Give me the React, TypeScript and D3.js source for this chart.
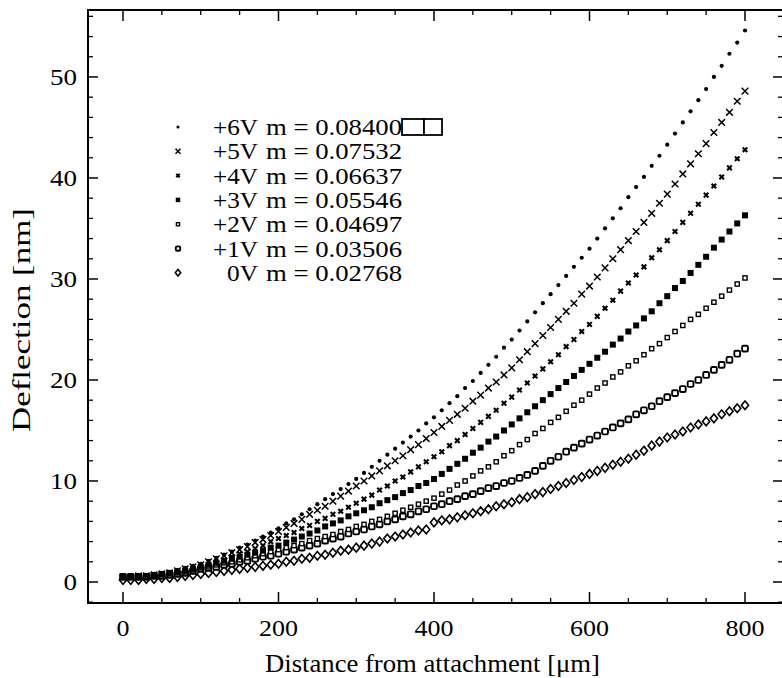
import React from "react";
import * as d3 from "d3";

const distance = [0,10,20,30,40,50,60,70,80,90,100,110,120,130,140,150,160,170,180,190,200,210,220,230,240,250,260,270,280,290,300,310,320,330,340,350,360,370,380,390,400,410,420,430,440,450,460,470,480,490,500,510,520,530,540,550,560,570,580,590,600,610,620,630,640,650,660,670,680,690,700,710,720,730,740,750,760,770,780,790,800];

const v6 = [0.5,0.5,0.6,0.6,0.7,0.8,1.0,1.2,1.4,1.6,1.8,2.1,2.4,2.7,3.0,3.4,3.7,4.1,4.5,4.9,5.3,5.8,6.2,6.7,7.2,7.7,8.2,8.7,9.2,9.7,10.2,10.8,11.4,12.0,12.6,13.2,13.8,14.4,15.0,15.7,16.3,17.0,17.7,18.4,19.2,19.9,20.7,21.5,22.3,23.2,24.0,24.9,25.8,26.7,27.6,28.5,29.4,30.3,31.2,32.1,33.0,34.0,35.0,36.0,37.0,38.1,39.1,40.1,41.2,42.2,43.3,44.4,45.5,46.6,47.7,48.8,50.0,51.1,52.3,53.4,54.6];
const v5 = [0.5,0.5,0.6,0.6,0.7,0.8,0.9,1.1,1.3,1.5,1.7,2.0,2.3,2.6,2.9,3.2,3.5,3.9,4.2,4.6,5.0,5.4,5.8,6.2,6.7,7.1,7.5,8.0,8.5,9.0,9.5,10.0,10.5,11.0,11.5,12.0,12.5,13.1,13.6,14.2,14.8,15.4,16.0,16.6,17.2,17.9,18.5,19.2,19.8,20.5,21.2,22.0,22.8,23.6,24.4,25.2,26.0,26.8,27.6,28.5,29.3,30.2,31.1,32.0,32.9,33.8,34.7,35.6,36.5,37.5,38.4,39.4,40.4,41.4,42.4,43.4,44.5,45.5,46.5,47.6,48.6];
const v4 = [0.5,0.5,0.5,0.6,0.7,0.8,0.9,1.0,1.2,1.3,1.5,1.7,2.0,2.2,2.5,2.8,3.0,3.3,3.6,4.0,4.3,4.6,4.9,5.3,5.6,6.0,6.3,6.7,7.0,7.4,7.8,8.2,8.6,9.1,9.5,10.0,10.4,10.9,11.4,11.9,12.4,12.9,13.5,14.0,14.6,15.2,15.8,16.4,17.0,17.7,18.3,19.0,19.7,20.4,21.1,21.8,22.5,23.3,24.0,24.8,25.5,26.3,27.1,27.9,28.8,29.6,30.4,31.2,32.1,32.9,33.8,34.7,35.6,36.5,37.4,38.3,39.2,40.1,41.0,41.9,42.8];
const v3 = [0.5,0.5,0.5,0.6,0.7,0.8,0.9,1.0,1.1,1.3,1.5,1.7,1.9,2.1,2.3,2.5,2.7,2.9,3.1,3.4,3.6,3.9,4.2,4.5,4.8,5.1,5.5,5.8,6.1,6.5,6.8,7.1,7.4,7.8,8.1,8.4,8.8,9.1,9.5,9.8,10.2,10.7,11.2,11.7,12.2,12.8,13.3,13.9,14.4,15.0,15.6,16.2,16.8,17.4,18.0,18.6,19.2,19.8,20.4,21.0,21.6,22.2,22.8,23.5,24.1,24.8,25.4,26.1,26.8,27.6,28.3,29.1,29.8,30.6,31.4,32.2,33.1,33.9,34.7,35.5,36.3];
const v2 = [0.5,0.5,0.5,0.6,0.6,0.7,0.8,0.9,1.0,1.2,1.3,1.5,1.7,1.9,2.0,2.2,2.4,2.6,2.8,3.0,3.2,3.4,3.6,3.8,4.1,4.3,4.5,4.7,5.0,5.2,5.5,5.7,6.0,6.2,6.5,6.8,7.1,7.4,7.7,8.0,8.3,8.7,9.1,9.6,10.0,10.5,11.0,11.4,11.9,12.5,13.0,13.6,14.1,14.7,15.2,15.8,16.3,16.9,17.5,18.0,18.6,19.2,19.7,20.3,20.8,21.4,21.9,22.5,23.1,23.6,24.2,24.8,25.4,26.0,26.5,27.1,27.7,28.3,28.9,29.5,30.1];
const v1 = [0.5,0.5,0.5,0.5,0.6,0.6,0.7,0.8,0.9,1.1,1.3,1.4,1.5,1.7,1.8,2.0,2.1,2.3,2.5,2.6,2.8,3.0,3.2,3.4,3.6,3.8,4.1,4.3,4.5,4.8,5.0,5.2,5.5,5.7,6.0,6.2,6.5,6.7,7.0,7.2,7.5,7.7,8.0,8.2,8.5,8.7,9.0,9.3,9.5,9.8,10.0,10.3,10.6,11.0,11.5,12.0,12.4,12.9,13.3,13.7,14.1,14.5,14.9,15.3,15.7,16.1,16.6,17.0,17.4,17.9,18.3,18.7,19.1,19.6,20.0,20.5,21.0,21.5,22.0,22.6,23.1];
const v0 = [0.2,0.2,0.2,0.3,0.3,0.4,0.4,0.5,0.6,0.7,0.8,0.9,1.0,1.1,1.2,1.3,1.4,1.5,1.6,1.7,1.8,2.0,2.1,2.3,2.4,2.6,2.7,2.9,3.1,3.2,3.4,3.6,3.8,4.0,4.3,4.5,4.7,4.9,5.1,5.2,5.9,6.1,6.2,6.4,6.6,6.8,7.0,7.2,7.5,7.7,7.9,8.2,8.4,8.7,8.9,9.2,9.5,9.8,10.1,10.4,10.7,11.0,11.3,11.6,11.9,12.2,12.6,13.0,13.5,13.9,14.3,14.6,14.9,15.3,15.6,15.9,16.2,16.6,16.9,17.2,17.5];

const seriesLabels = ["+6V", "+5V", "+4V", "+3V", "+2V", "+1V", "0V"];
const slopeLabels = ["m = 0.08400", "m = 0.07532", "m = 0.06637", "m = 0.05546", "m = 0.04697", "m = 0.03506", "m = 0.02768"];
const seriesValues = [v6, v5, v4, v3, v2, v1, v0];
const markerKinds = ["dot", "cross", "smallx", "square", "smallsquare", "opensquare", "diamond"];

const xMajorTicks = [0, 200, 400, 600, 800];
const yMajorTicks = [0, 10, 20, 30, 40, 50];

const W = 782;
const H = 678;
const FONT = "'Liberation Serif', 'Times New Roman', serif";

const x = d3.scaleLinear().domain([-45, 846.3]).range([88, 781]);
const y = d3.scaleLinear().domain([-2.08, 56.63]).range([603, 10]);

function Marker({ kind, cx, cy, legend }: { kind: string; cx: number; cy: number; legend?: boolean }) {
  const k = legend ? 0.75 : 1;
  switch (kind) {
    case "dot":
      return <circle cx={cx} cy={cy} r={2.1 * k} fill="#000" />;
    case "cross": {
      const s = 3.3 * k;
      return (
        <path
          d={`M${cx - s},${cy - s}L${cx + s},${cy + s}M${cx - s},${cy + s}L${cx + s},${cy - s}`}
          stroke="#000"
          strokeWidth={1.5}
          fill="none"
        />
      );
    }
    case "smallx": {
      const s = 2.3 * k;
      return (
        <path
          d={`M${cx - s},${cy - s}L${cx + s},${cy + s}M${cx - s},${cy + s}L${cx + s},${cy - s}`}
          stroke="#000"
          strokeWidth={2.1}
          fill="none"
        />
      );
    }
    case "square": {
      const s = 6 * k;
      return <rect x={cx - s / 2} y={cy - s / 2} width={s} height={s} fill="#000" />;
    }
    case "smallsquare": {
      const s = 4.2 * k;
      return <rect x={cx - s / 2} y={cy - s / 2} width={s} height={s} fill="#fff" stroke="#000" strokeWidth={1.4} />;
    }
    case "opensquare": {
      const s = 5.8 * k;
      return <rect x={cx - s / 2} y={cy - s / 2} width={s} height={s} rx={1.3} fill="#fff" stroke="#000" strokeWidth={1.9} />;
    }
    case "diamond": {
      const a = 4.3 * k;
      const b = 3.6 * k;
      return (
        <path
          d={`M${cx},${cy - a}L${cx + b},${cy}L${cx},${cy + a}L${cx - b},${cy}Z`}
          fill="#fff"
          stroke="#000"
          strokeWidth={1.6}
        />
      );
    }
    default:
      return null;
  }
}

export default function App() {
  const xMinor = d3.range(0, 846, 50).filter((t) => !xMajorTicks.includes(t));
  const yMinor = d3.range(-2, 57, 2).filter((t) => !yMajorTicks.includes(t) && t > -2.08 && t < 56.6);
  const left = 88, right = 783, top = 10, bottom = 603;

  const drawOrder = [6, 5, 4, 3, 2, 1, 0];
  const legendY0 = 127;
  const legendDy = 24.3;

  return (
    <svg
      width={W}
      height={H}
      style={{ position: "absolute", left: 0, top: 0, background: "#fff" }}
      fontFamily={FONT}
    >
      <rect x={0} y={0} width={W} height={H} fill="#fff" />
      {/* frame */}
      <path
        d={`M${left},${top}L${right},${top}L${right},${bottom}L${left},${bottom}Z`}
        fill="none"
        stroke="#000"
        strokeWidth={2}
      />
      {/* bottom & top ticks */}
      {xMajorTicks.map((t) => (
        <g key={`xM${t}`}>
          <line x1={x(t)} x2={x(t)} y1={bottom} y2={bottom - 11} stroke="#000" strokeWidth={1.5} />
          <line x1={x(t)} x2={x(t)} y1={top} y2={top + 11} stroke="#000" strokeWidth={1.5} />
          <text
            x={x(t)}
            y={636}
            fontSize={24}
            textAnchor="middle"
            fill="#000"
            textLength={String(t).length * 13}
            lengthAdjust="spacingAndGlyphs"
          >
            {t}
          </text>
        </g>
      ))}
      {xMinor.map((t) => (
        <g key={`xm${t}`}>
          <line x1={x(t)} x2={x(t)} y1={bottom} y2={bottom - 5} stroke="#000" strokeWidth={1.3} />
          <line x1={x(t)} x2={x(t)} y1={top} y2={top + 5} stroke="#000" strokeWidth={1.3} />
        </g>
      ))}
      {/* left & right ticks */}
      {yMajorTicks.map((t) => (
        <g key={`yM${t}`}>
          <line x1={left} x2={left + 10} y1={y(t)} y2={y(t)} stroke="#000" strokeWidth={1.5} />
          <line x1={right} x2={right - 10} y1={y(t)} y2={y(t)} stroke="#000" strokeWidth={1.5} />
          <text
            x={77}
            y={y(t) + 8}
            fontSize={24}
            textAnchor="end"
            fill="#000"
            textLength={String(t).length * 13.5}
            lengthAdjust="spacingAndGlyphs"
          >
            {t}
          </text>
        </g>
      ))}
      {yMinor.map((t) => (
        <g key={`ym${t}`}>
          <line x1={left} x2={left + 5} y1={y(t)} y2={y(t)} stroke="#000" strokeWidth={1.3} />
          <line x1={right} x2={right - 5} y1={y(t)} y2={y(t)} stroke="#000" strokeWidth={1.3} />
        </g>
      ))}
      {/* axis titles */}
      <text
        x={432.5}
        y={672}
        fontSize={25}
        textAnchor="middle"
        fill="#000"
        textLength={335}
        lengthAdjust="spacingAndGlyphs"
      >
        Distance from attachment [μm]
      </text>
      <text
        transform={`translate(30,320) rotate(-90)`}
        fontSize={25}
        textAnchor="middle"
        fill="#000"
        textLength={224}
        lengthAdjust="spacingAndGlyphs"
      >
        Deflection [nm]
      </text>
      {/* data */}
      {drawOrder.map((si) => (
        <g key={`s${si}`}>
          {seriesValues[si].map((v, i) => (
            <Marker key={i} kind={markerKinds[si]} cx={x(distance[i])} cy={y(v)} />
          ))}
        </g>
      ))}
      {/* legend */}
      {seriesLabels.map((lab, i) => {
        const ly = legendY0 + i * legendDy;
        return (
          <g key={`lg${i}`}>
            <Marker kind={markerKinds[i]} cx={178} cy={ly} legend />
            <text
              x={258}
              y={ly + 8}
              fontSize={24}
              textAnchor="end"
              fill="#000"
              textLength={lab.length === 3 ? 45 : 31}
              lengthAdjust="spacingAndGlyphs"
            >
              {lab}
            </text>
            <text
              x={266}
              y={ly + 8}
              fontSize={24}
              fill="#000"
              textLength={136}
              lengthAdjust="spacingAndGlyphs"
            >
              {slopeLabels[i]}
            </text>
          </g>
        );
      })}
      <rect x={402} y={legendY0 - 8} width={22} height={16} fill="#fff" stroke="#000" strokeWidth={1.8} />
      <rect x={424} y={legendY0 - 8} width={18} height={16} fill="#fff" stroke="#000" strokeWidth={1.8} />
    </svg>
  );
}
